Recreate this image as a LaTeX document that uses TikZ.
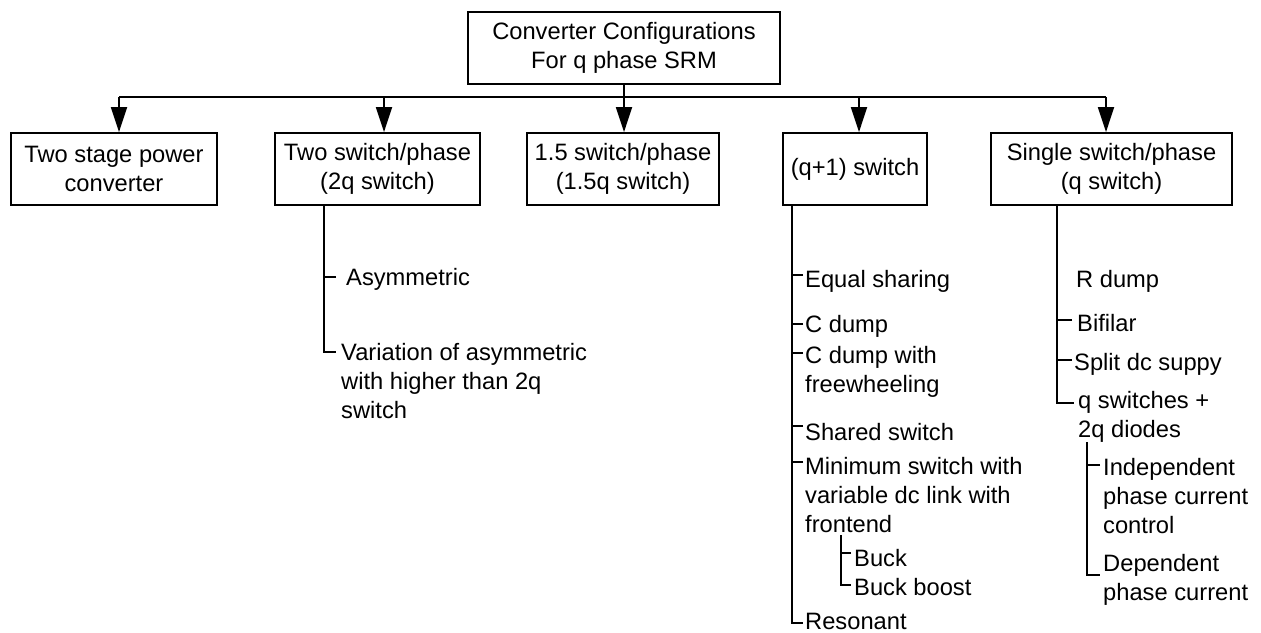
\documentclass[tikz,border=0pt]{standalone}
\usepackage{fontspec}
\setmainfont{Liberation Sans}
\usetikzlibrary{arrows.meta,calc}
\newcommand{\leafl}[1]{\begin{tabular}[t]{@{}l@{}}#1\end{tabular}}
\tikzset{
  txt/.style={font=\fontsize{23.7}{29}\selectfont},
  box/.style={txt,draw,line width=1.8pt,align=center,inner sep=0pt},
  leaf/.style={txt,anchor=base west,inner ysep=0pt},
  tree/.style={line width=1.8pt},
  arr/.style={line width=1.8pt,-{Triangle[length=25pt,width=16pt]}},
}
\begin{document}
\begin{tikzpicture}[x=1pt,y=-1pt]
\useasboundingbox (0,0) rectangle (1261,632);
% boxes
\node[box,minimum width=312pt,minimum height=72pt] (top) at (624,48) {Converter Configurations\\For q phase SRM};
\node[box,minimum width=206pt,minimum height=72pt] (b1) at (114,169) {Two stage power\\converter};
\node[box,minimum width=205pt,minimum height=72pt] (b2) at (377.5,169) {Two switch/phase\\(2q switch)};
\node[box,minimum width=192pt,minimum height=72pt] (b3) at (623,169) {1.5 switch/phase\\(1.5q switch)};
\node[box,minimum width=144pt,minimum height=72pt] (b4) at (855,169) {(q+1) switch};
\node[box,minimum width=241pt,minimum height=72pt] (b5) at (1111.5,169) {Single switch/phase\\(q switch)};
% bus
\coordinate (j1) at (119,97);
\coordinate (j2) at (384,97);
\coordinate (j3) at (624,97);
\coordinate (j4) at (859,97);
\coordinate (j5) at (1106,97);
\draw[tree] (j1) -- (j5);
\draw[tree] (top.south) -- (j3);
\draw[arr] (j1) -- (j1 |- b1.north);
\draw[arr] (j2) -- (j2 |- b2.north);
\draw[arr] (j3) -- (j3 |- b3.north);
\draw[arr] (j4) -- (j4 |- b4.north);
\draw[arr] (j5) -- (j5 |- b5.north);
% branch of b2
\coordinate (t2) at (324,205);
\node[leaf,inner xsep=10pt] (asym) at (336,285.5) {Asymmetric};
\node[leaf,inner xsep=5pt] (var) at (336,360.5) {\leafl{Variation of asymmetric\\with higher than 2q\\switch}};
\draw[tree] ($(asym.base west)+(0,-8.5)$) -- +(-12,0);
\draw[tree] (t2) |- ($(var.base west)+(0,-8.5)$);
% branch of b4
\coordinate (t4) at (792,205);
\node[leaf,inner xsep=2pt] (eq) at (803,287.5) {Equal sharing};
\node[leaf,inner xsep=2pt] (cd) at (803,332.5) {C dump};
\node[leaf,inner xsep=2pt] (cdf) at (803,363.5) {\leafl{C dump with\\freewheeling}};
\node[leaf,inner xsep=2pt] (sh) at (803,440.5) {Shared switch};
\node[leaf,inner xsep=2pt] (mn) at (803,474.5) {\leafl{Minimum switch with\\variable dc link with\\frontend}};
\node[leaf,inner xsep=3pt] (bk) at (851,566.5) {Buck};
\node[leaf,inner xsep=3pt] (bb) at (851,595.5) {Buck boost};
\node[leaf,inner xsep=2pt] (rs) at (803,629) {Resonant};
\draw[tree] ($(eq.base west)+(0,-12.5)$) -- +(-11,0);
\draw[tree] ($(cd.base west)+(0,-8.5)$) -- +(-11,0);
\draw[tree] ($(cdf.base west)+(0,-10.5)$) -- +(-11,0);
\draw[tree] ($(sh.base west)+(0,-14.5)$) -- +(-11,0);
\draw[tree] ($(mn.base west)+(0,-12.5)$) -- +(-11,0);
\draw[tree] (t4) |- ($(rs.base west)+(0,-6)$);
\coordinate (t4b) at (841,535);
\draw[tree] ($(bk.base west)+(0,-13.5)$) -- +(-10,0);
\draw[tree] (t4b) |- ($(bb.base west)+(0,-10.5)$);
% branch of b5
\coordinate (t5) at (1057,205);
\node[leaf,inner xsep=0pt] (rd) at (1076,287.5) {R dump};
\node[leaf,inner xsep=5pt] (bf) at (1072,331.5) {Bifilar};
\node[leaf,inner xsep=2pt] (sp) at (1072,370.5) {Split dc suppy};
\node[leaf,inner xsep=4pt] (qs) at (1074,408.5) {\leafl{q switches +\\2q diodes}};
\node[leaf,inner xsep=3pt] (ind) at (1100,475.5) {\leafl{Independent\\phase current\\control}};
\node[leaf,inner xsep=3pt] (dep) at (1100,571.5) {\leafl{Dependent\\phase current}};
\draw[tree] ($(bf.base west)+(0,-11.5)$) -- +(-15,0);
\draw[tree] ($(sp.base west)+(0,-10.5)$) -- +(-15,0);
\draw[tree] (t5) |- ($(qs.base west)+(0,-5.5)$);
\coordinate (t5b) at (1087,442);
\draw[tree] ($(ind.base west)+(0,-10.5)$) -- +(-13,0);
\draw[tree] (t5b) |- ($(dep.base west)+(0,3.5)$);
\end{tikzpicture}
\end{document}
